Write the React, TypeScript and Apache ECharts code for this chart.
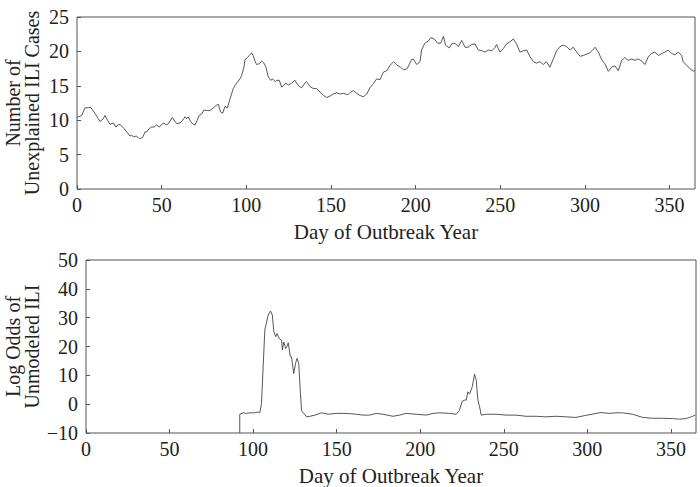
import React, { useEffect, useRef } from "react";
import * as echarts from "echarts";

const xTicks = [0, 50, 100, 150, 200, 250, 300, 350];
const topYTicks = [0, 5, 10, 15, 20, 25];
const bottomYTicks = [-10, 0, 10, 20, 30, 40, 50];

const topDays = [
  0, 2.8, 4.7, 6.7, 8, 10.6, 12.6, 13.6, 15.5, 16.5, 18, 19.5, 21.5, 23, 24.4, 25.8, 27.8, 29.3, 31.3, 32.3,
  33.3, 35.2, 36.8, 38.8, 40.2, 41.2, 42.7, 44, 45.5, 47, 48.6, 50, 51.4, 52.6, 54, 55.3, 56.3, 57.9, 58.9, 60.8,
  62.4, 63.8, 64.8, 65.7, 67.1, 68.7, 69.7, 71, 72.2, 73.6, 75, 76.6, 78.5, 80.5, 82.5, 83.5, 84.8, 86, 87.4, 88.8,
  90.4, 92.3, 94.3, 96.3, 97.2, 98.6, 99.2, 100.6, 101.8, 103.1, 104, 105, 106, 107.7, 109, 110.4, 111.6, 113, 114.4, 115.6,
  117, 118, 119.5, 120.9, 122.2, 123.4, 124.8, 126.8, 128.7, 129.7, 131.3, 132.7, 134.6, 135.6, 137.6, 139.6, 141.5, 143.5, 145.5, 147.4,
  149.4, 151.4, 153.3, 155.3, 157.3, 160, 161.2, 163.2, 165.2, 167.1, 169.1, 171.1, 173, 175, 177, 179, 181, 183, 185, 187,
  189, 191, 193, 195, 197.6, 198.6, 200.6, 202.6, 203.5, 205.5, 207.5, 209, 211, 213, 214.8, 216.4, 217.7, 219.9, 221.3, 223.2,
  225.2, 227.2, 229.2, 231, 233, 235.1, 237, 239, 241, 243, 245, 247, 247.8, 249.8, 251.8, 253.7, 255.7, 257.7, 259.6, 261.6,
  263.6, 265.6, 267.6, 269.6, 271.4, 273.5, 275.4, 277.3, 279.3, 281.3, 283.3, 285.3, 287.2, 289.2, 291.2, 293.1, 295.1, 297.1, 299, 301,
  303, 306, 307.9, 309.9, 311.8, 313.8, 315.7, 317.7, 319.7, 321.7, 323.6, 325.6, 327.6, 329.5, 331.5, 333.5, 335.4, 337.4, 339.4, 341.3,
  343.3, 345.3, 347.2, 349.2, 351.2, 353.1, 355.1, 357.1, 358, 360, 362, 364, 365,
];
const topCases = [
  10.4, 10.7, 11.8, 11.8, 11.9, 11.0, 10.2, 9.8, 10.2, 10.7, 10.0, 9.4, 9.6, 9.0, 9.4, 9.3, 8.8, 8.3, 7.7, 7.8,
  7.6, 7.7, 7.3, 7.5, 8.3, 8.3, 8.8, 9.0, 9.0, 9.3, 9.0, 9.4, 9.6, 9.3, 9.5, 10.0, 10.4, 9.8, 9.5, 9.6,
  10.0, 10.5, 10.2, 10.5, 9.8, 9.4, 9.3, 10.0, 10.7, 10.9, 11.5, 11.4, 11.4, 11.8, 12.2, 12.3, 11.2, 11.0, 12.0, 11.8,
  13.1, 14.6, 15.4, 16.0, 16.5, 17.7, 18.8, 19.1, 19.4, 19.8, 19.4, 18.7, 18.1, 18.2, 18.6, 18.3, 17.7, 16.3, 15.8, 16.0,
  15.6, 15.8, 15.8, 14.8, 15.1, 15.4, 15.1, 15.4, 15.8, 15.4, 14.9, 14.7, 15.4, 15.6, 14.9, 14.6, 14.6, 14.1, 13.6, 13.3,
  13.5, 13.8, 14.0, 13.8, 13.9, 13.7, 14.0, 14.3, 13.9, 13.6, 13.4, 13.8, 14.7, 15.3, 16.0, 15.9, 17.0, 17.2, 18.0, 18.5,
  18.0, 17.7, 17.3, 17.5, 18.8, 18.9, 18.1, 18.5, 20.2, 21.2, 21.5, 22.0, 21.8, 21.2, 21.2, 22.2, 20.9, 20.5, 21.1, 21.2,
  20.7, 21.6, 20.6, 20.6, 21.0, 21.1, 20.2, 20.1, 19.9, 20.2, 20.1, 20.6, 21.0, 19.9, 20.4, 21.1, 21.4, 21.8, 21.1, 19.9,
  20.1, 20.2, 19.2, 18.5, 18.3, 18.5, 18.1, 18.5, 17.7, 18.9, 20.1, 20.7, 20.9, 20.7, 20.2, 20.6, 19.9, 19.3, 19.4, 19.6,
  19.8, 20.6, 19.9, 18.8, 18.2, 17.1, 17.7, 17.9, 17.2, 18.7, 19.1, 18.7, 18.9, 18.7, 18.9, 18.6, 18.1, 19.2, 19.7, 19.9,
  19.4, 19.7, 19.9, 20.2, 19.7, 19.5, 19.9, 19.4, 18.5, 18.0, 17.5, 17.1, 17.3,
];

const bottomDays = [
  92, 92, 94, 96, 98, 101, 103, 104, 105, 107, 109, 110.4, 111.5, 112.4, 113.5, 114.3, 115.5, 117, 117.5, 118.3,
  119.5, 120.3, 121, 122.3, 123, 124.3, 125.5, 126.3, 127.3, 128.3, 129, 130.3, 132, 134, 137, 141, 145, 149, 154, 158,
  161.8, 165.7, 169.7, 173.7, 177.7, 183.7, 187.6, 191.6, 197.6, 203.5, 207.6, 211.6, 217.5, 221.5, 223.5, 225.1, 226.5, 227.5, 228.5, 229.5,
  231.1, 232.5, 233.5, 234.5, 235.5, 236.5, 239.5, 245.4, 251.4, 257.3, 263.3, 269.3, 275.2, 281.3, 287.2, 293.1, 299, 305.2, 308.2, 313.1,
  317.1, 321.1, 327.1, 333.1, 339, 345, 351.1, 355.1, 359.1, 363.1, 364.5,
];
const bottomLogOdds = [
  -10, -3.5, -3.0, -3.2, -3.0, -3.0, -2.7, -3.0, 0.2, 25.7, 30.9, 32.3, 30.9, 25.1, 23.4, 24.5, 22.8, 22.2, 18.8, 21.6,
  19.3, 20.1, 21.3, 16.4, 16.4, 10.6, 14.4, 15.9, 14.1, 3.7, -2.3, -3.2, -4.4, -4.2, -3.8, -3.0, -3.5, -3.2, -3.2, -3.3,
  -3.5, -3.8, -3.8, -3.2, -3.5, -4.2, -3.8, -3.2, -3.5, -3.8, -3.2, -3.0, -3.2, -3.5, -2.1, 1.0, 1.4, 1.4, 4.3, 3.5,
  6.0, 10.4, 8.3, 1.4, -0.9, -3.8, -3.5, -3.5, -3.8, -3.8, -4.2, -4.2, -4.4, -4.2, -4.4, -4.6, -3.9, -3.2, -2.9, -3.2,
  -3.0, -3.0, -3.5, -4.6, -4.9, -4.9, -5.0, -5.2, -5.0, -4.2, -3.8,
];

const FONT = "'Liberation Serif', 'DejaVu Serif', serif";
const TEXT = "#222";
const FRAME = "#555";
const TICK_SIZE = 20;
const NAME_SIZE = 21;
const YNAME_SIZE = 20;

function fmt(v: number) {
  return v < 0 ? "\u2212" + Math.abs(v) : String(v);
}

export default function App() {
  const ref = useRef<HTMLDivElement>(null);
  useEffect(() => {
    if (!ref.current) return;
    const chart = echarts.init(ref.current, undefined, { renderer: "svg" });
    const xAxisBase = (gridIndex: number) => ({
      type: "value" as const,
      gridIndex,
      min: 0,
      max: 365,
      interval: 50,
      name: "Day of Outbreak Year",
      nameLocation: "middle" as const,
      nameGap: 32,
      nameTextStyle: { fontFamily: FONT, fontSize: NAME_SIZE, color: TEXT },
      axisLine: { show: false, onZero: false },
      axisTick: { show: true, inside: true, length: 4, lineStyle: { color: FRAME } },
      axisLabel: {
        fontFamily: FONT,
        fontSize: TICK_SIZE,
        color: TEXT,
        margin: 6,
        showMaxLabel: false,
        formatter: (v: number) => (xTicks.includes(v) ? fmt(v) : ""),
      },
      splitLine: { show: false },
    });
    const topTop = 17, topBottom = 189, botTop = 260, botBottom = 433;
    chart.setOption({
      animation: false,
      grid: [
        { left: 77, right: 5, top: topTop, height: topBottom - topTop, show: true, borderColor: FRAME, borderWidth: 1, backgroundColor: "transparent", outerBoundsMode: "none", containLabel: false },
        { left: 86, right: 4, top: botTop, height: botBottom - botTop, show: true, borderColor: FRAME, borderWidth: 1, backgroundColor: "transparent", outerBoundsMode: "none", containLabel: false },
      ],
      xAxis: [xAxisBase(0), xAxisBase(1)],
      yAxis: [
        {
          type: "value",
          gridIndex: 0,
          min: topYTicks[0],
          max: topYTicks[topYTicks.length - 1],
          interval: 5,
          name: "Number of\nUnexplained ILI Cases",
          nameLocation: "middle",
          nameGap: 36,
          nameMoveOverlap: false,
          nameTextStyle: { fontFamily: FONT, fontSize: YNAME_SIZE, color: TEXT, lineHeight: 19, align: "center" },
          axisLine: { show: false, onZero: false },
          axisTick: { show: true, inside: true, length: 4, lineStyle: { color: FRAME } },
          axisLabel: { fontFamily: FONT, fontSize: TICK_SIZE, color: TEXT, margin: 8, formatter: fmt },
          splitLine: { show: false },
        },
        {
          type: "value",
          gridIndex: 1,
          min: bottomYTicks[0],
          max: bottomYTicks[bottomYTicks.length - 1],
          interval: 10,
          name: "Log Odds of\nUnmodeled ILI",
          nameLocation: "middle",
          nameGap: 45,
          nameMoveOverlap: false,
          nameTextStyle: { fontFamily: FONT, fontSize: YNAME_SIZE, color: TEXT, lineHeight: 19, align: "center" },
          axisLine: { show: false, onZero: false },
          axisTick: { show: true, inside: true, length: 4, lineStyle: { color: FRAME } },
          axisLabel: { fontFamily: FONT, fontSize: TICK_SIZE, color: TEXT, margin: 8, formatter: fmt },
          splitLine: { show: false },
        },
      ],
      series: [
        {
          type: "line",
          xAxisIndex: 0,
          yAxisIndex: 0,
          showSymbol: false,
          data: topDays.map((d, i) => [d, topCases[i]]),
          lineStyle: { color: "#444", width: 0.9 },
        },
        {
          type: "line",
          xAxisIndex: 1,
          yAxisIndex: 1,
          showSymbol: false,
          data: bottomDays.map((d, i) => [d, bottomLogOdds[i]]),
          lineStyle: { color: "#444", width: 0.9 },
        },
      ],
    });
    return () => chart.dispose();
  }, []);
  return (
    <div
      ref={ref}
      style={{ position: "fixed", left: 0, top: 0, width: 700, height: 487, background: "#fff" }}
    />
  );
}
